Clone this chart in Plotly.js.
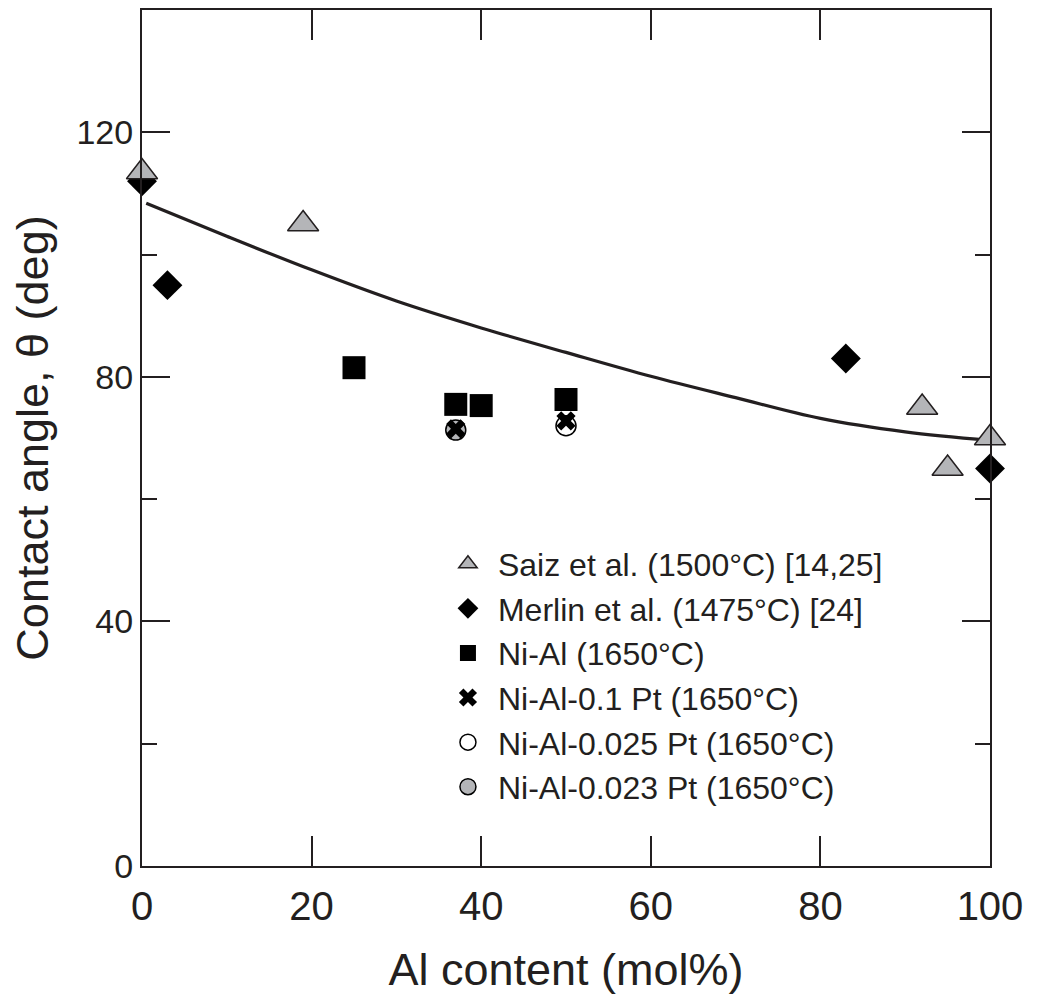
<!DOCTYPE html>
<html>
<head>
<meta charset="utf-8">
<script src="https://cdn.plot.ly/plotly-3.0.1.min.js"></script>
<style>html,body{margin:0;padding:0;background:#fff;}#chart{width:1037px;height:1001px;}</style>
</head>
<body>
<div id="chart"></div>
<script>
// Saiz et al. (1500°C) [14,25]
const saizX = [0, 19, 92, 95, 100];
const saizY = [113.5, 105, 75, 65, 70];
// Merlin et al. (1475°C) [24]
const merlinX = [0, 3, 83, 100];
const merlinY = [112, 95, 83, 65];
// Ni-Al (1650°C)
const niAlX = [25, 37, 40, 50];
const niAlY = [81.5, 75.5, 75.3, 76.3];
// Ni-Al-0.1 Pt (1650°C)
const pt01X = [37, 50];
const pt01Y = [71.5, 72.8];
// Ni-Al-0.025 Pt (1650°C)
const pt025X = [50];
const pt025Y = [72];
// Ni-Al-0.023 Pt (1650°C)
const pt023X = [37];
const pt023Y = [71.3];
// fitted curve
const fitX = [0.5, 10, 20, 30, 40, 50, 60, 70, 80, 90, 100];
const fitY = [108.4, 103, 97.5, 92.4, 88, 84, 80.1, 76.6, 73.2, 71, 69.6];

const FONT = 'Liberation Sans, Arial, Helvetica, sans-serif';
const GRAY = '#b4b5b8';
const INK = '#231f20';

const traces = [
  {x: fitX, y: fitY, mode: 'lines', line: {color: INK, width: 3.2, shape: 'spline'}, showlegend: false, hoverinfo: 'skip', cliponaxis: false},
  {x: pt023X, y: pt023Y, mode: 'markers', name: 'Ni-Al-0.023 Pt (1650°C)', cliponaxis: false,
   marker: {symbol: 'circle', size: 20, color: GRAY, line: {color: '#000', width: 1.5}}},
  {x: pt025X, y: pt025Y, mode: 'markers', name: 'Ni-Al-0.025 Pt (1650°C)', cliponaxis: false,
   marker: {symbol: 'circle', size: 20, color: '#fff', line: {color: '#000', width: 1.5}}},
  {x: pt01X, y: pt01Y, mode: 'markers', name: 'Ni-Al-0.1 Pt (1650°C)', cliponaxis: false,
   marker: {symbol: 'x', size: 17, color: '#000', line: {width: 0}}},
  {x: niAlX, y: niAlY, mode: 'markers', name: 'Ni-Al (1650°C)', cliponaxis: false,
   marker: {symbol: 'square', size: 23, color: '#000', line: {width: 0}}},
  {x: merlinX, y: merlinY, mode: 'markers', name: 'Merlin et al. (1475°C) [24]', cliponaxis: false,
   marker: {symbol: 'diamond', size: 23, color: '#000', line: {width: 0}}},
  {x: saizX, y: saizY, mode: 'markers', name: 'Saiz et al. (1500°C) [14,25]', cliponaxis: false,
   marker: {symbol: 'triangle-up', size: 27, color: GRAY, line: {color: INK, width: 1.5}}}
];

const layout = {
  width: 1037, height: 1001,
  margin: {l: 142, r: 47, t: 10, b: 135},
  paper_bgcolor: '#fff', plot_bgcolor: '#fff',
  font: {family: FONT, color: INK},
  showlegend: true,
  legend: {
    x: 0.349, y: 0.385, xanchor: 'left', yanchor: 'top',
    traceorder: 'reversed',
    font: {family: FONT, size: 32, color: INK},
    bgcolor: 'rgba(0,0,0,0)', borderwidth: 0, itemwidth: 50
  },
  xaxis: {
    range: [0, 100], dtick: 20, tick0: 0,
    showgrid: false, zeroline: false,
    showline: true, linecolor: INK, linewidth: 2, mirror: 'ticks',
    ticks: 'inside', ticklen: 30, tickwidth: 2, tickcolor: INK,
    ticklabelstandoff: 4,
    tickfont: {family: FONT, size: 40, color: INK},
    title: {text: 'Al content (mol%)', font: {family: FONT, size: 45, color: INK}, standoff: 26}
  },
  yaxis: {
    range: [0, 140], dtick: 40, tick0: 0,
    showgrid: false, zeroline: false,
    showline: true, linecolor: INK, linewidth: 2, mirror: 'ticks',
    ticks: 'inside', ticklen: 28, tickwidth: 2, tickcolor: INK,
    minor: {dtick: 20, ticks: 'inside', ticklen: 15, tickwidth: 2, tickcolor: INK, showgrid: false},
    tickfont: {family: FONT, size: 34, color: INK},
    title: {text: 'Contact angle, θ (deg)', font: {family: FONT, size: 45, color: INK}, standoff: 14}
  }
};

Plotly.newPlot('chart', traces, layout, {displayModeBar: false, staticPlot: true});
</script>
</body>
</html>
